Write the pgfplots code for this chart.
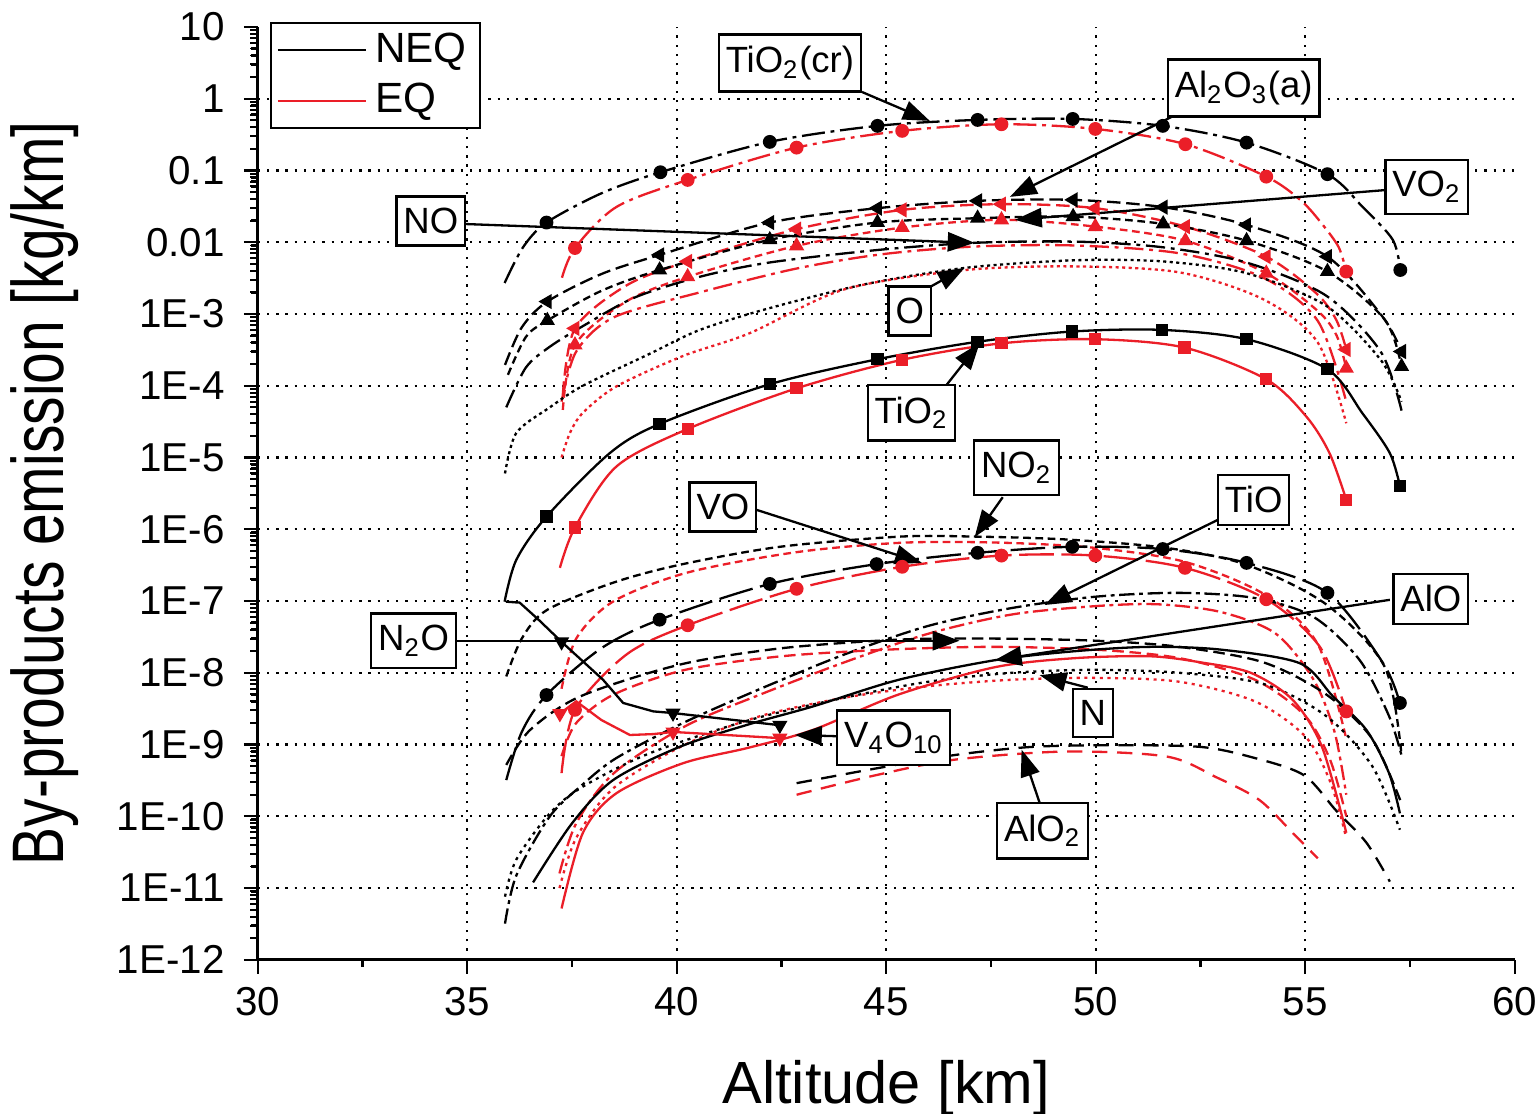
\documentclass[border=0pt]{standalone}
\usepackage{fontspec}
\setmainfont{Liberation Sans}
\newfontfamily\condensed[FakeStretch=0.78]{Liberation Sans}
\usepackage{pgfplots}
\pgfplotsset{compat=1.18}
\usetikzlibrary{arrows.meta}
\definecolor{eqred}{RGB}{235,30,40}
\tikzset{
  neq/.style={black, line width=0.6pt},
  eq/.style={eqred, line width=0.6pt},
  sTiOcr/.style={dash pattern=on 6pt off 1.5pt on 1pt off 1.5pt},
  sAlthree/.style={dash pattern=on 3.5pt off 1.5pt},
  sVOtwo/.style={dash pattern=on 2pt off 1.2pt},
  sNO/.style={dash pattern=on 5pt off 1.5pt on 1pt off 1.5pt},
  sO/.style={dash pattern=on 0.8pt off 0.9pt},
  sNOtwo/.style={dash pattern=on 2pt off 1.2pt},
  sVO/.style={dash pattern=on 9pt off 2pt},
  sTiO/.style={dash pattern=on 4pt off 1.2pt on 1pt off 1.2pt},
  sNtwoO/.style={dash pattern=on 3pt off 1.5pt},
  sN/.style={dash pattern=on 0.8pt off 1.2pt},
  sAlOtwo/.style={dash pattern=on 4pt off 2.5pt},
  lbl/.style={draw=black, fill=white, line width=0.6pt, font=\fontsize{9.5}{11}\selectfont, inner xsep=1.8pt, inner ysep=3pt},
  arr/.style={black, line width=0.6pt, -{Triangle[length=7pt,width=5pt]}},
}
\begin{document}
\begin{tikzpicture}
% overlay axis carrying only the logarithmic minor ticks of the y axis
\begin{axis}[
  at={(0,0)}, anchor=south west,
  scale only axis, width=327.1pt, height=242.8pt,
  xmin=30, xmax=60, ymode=log, ymin=1e-12, ymax=10,
  axis x line=none, axis y line*=left,
  axis line style={-, line width=0.8pt},
  ytick={2e-12,3e-12,4e-12,5e-12,6e-12,7e-12,8e-12,9e-12,
    2e-11,3e-11,4e-11,5e-11,6e-11,7e-11,8e-11,9e-11,
    2e-10,3e-10,4e-10,5e-10,6e-10,7e-10,8e-10,9e-10,
    2e-9,3e-9,4e-9,5e-9,6e-9,7e-9,8e-9,9e-9,
    2e-8,3e-8,4e-8,5e-8,6e-8,7e-8,8e-8,9e-8,
    2e-7,3e-7,4e-7,5e-7,6e-7,7e-7,8e-7,9e-7,
    2e-6,3e-6,4e-6,5e-6,6e-6,7e-6,8e-6,9e-6,
    2e-5,3e-5,4e-5,5e-5,6e-5,7e-5,8e-5,9e-5,
    2e-4,3e-4,4e-4,5e-4,6e-4,7e-4,8e-4,9e-4,
    2e-3,3e-3,4e-3,5e-3,6e-3,7e-3,8e-3,9e-3,
    2e-2,3e-2,4e-2,5e-2,6e-2,7e-2,8e-2,9e-2,
    2e-1,3e-1,4e-1,5e-1,6e-1,7e-1,8e-1,9e-1,
    2,3,4,5,6,7,8,9},
  yticklabel={\relax},
  tick align=outside, major tick length=2pt,
  tick style={black, line width=0.5pt},
]
\end{axis}
\begin{axis}[
  at={(0,0)}, anchor=south west,
  scale only axis, width=327.1pt, height=242.8pt,
  xmin=30, xmax=60, ymode=log, ymin=1e-12, ymax=10,
  axis x line*=bottom, axis y line*=left,
  axis line style={-, line width=0.8pt},
  xtick={30,35,40,45,50,55,60}, xticklabels={30,35,40,45,50,55,60},
  minor x tick num=1,
  ytickten={-12,...,1},
  yticklabels={1E-12,1E-11,1E-10,1E-9,1E-8,1E-7,1E-6,1E-5,1E-4,1E-3,0.01,0.1,1,10},
  tick align=outside, major tick length=3.6pt, minor tick length=1.8pt,
  tick style={black, line width=0.6pt},
  ticklabel style={font=\fontsize{10.5}{12}\selectfont},
  yticklabel style={xshift=-1.5pt},
  extra x ticks={35,40,45,50,55},
  extra x tick style={grid=major, major tick length=0pt, xticklabel={\relax}},
  extra y ticks={1e-11,1e-10,1e-9,1e-8,1e-7,1e-6,1e-5,1e-4,1e-3,1e-2,1e-1,1},
  extra y tick style={grid=major, major tick length=0pt, yticklabel={\relax}},
  major grid style={black, line width=0.6pt, dash pattern=on 0.6pt off 1.8pt},
  xlabel={\fontsize{15.5}{18}\selectfont Altitude [km]},
  xlabel style={at={(axis description cs:0.5,-0.137)}, anchor=center},
  ylabel={\condensed\fontsize{19}{22}\selectfont By-products emission [kg/km]},
  ylabel style={at={(axis description cs:-0.1697,0.5)}, anchor=center},
  legend image code/.code={\draw[#1] (0pt,0pt) -- (23pt,0pt);},
  legend style={at={(rel axis cs:0.0095,1.0054)}, anchor=north west, draw=black, line width=0.6pt,
    font=\fontsize{11}{12.5}\selectfont, inner xsep=1.5pt, inner ysep=0.5pt, cells={anchor=west}},
]
\addlegendimage{black, line width=0.6pt}
\addlegendentry{NEQ}
\addlegendimage{eqred, line width=0.6pt}
\addlegendentry{EQ}

% ---------- TiO2(cr) ----------
\addplot[neq, sTiOcr, smooth, forget plot] coordinates {
(35.89,2.7e-3) (36.33,8.5e-3) (36.89,1.88e-2) (38.2,4.8e-2) (39.61,9.44e-2) (42.22,0.25) (44.79,0.418) (47.18,0.506) (49.45,0.522) (51.6,0.418) (53.6,0.244) (55.53,8.87e-2) (56.37,3.1e-2) (57.09,1.08e-2) (57.27,4.1e-3)};
\addplot[black, only marks, mark=*, mark size=1.6pt, forget plot] coordinates {
(36.89,1.88e-2) (39.61,9.44e-2) (42.22,0.25) (44.79,0.418) (47.18,0.506) (49.45,0.522) (51.6,0.418) (53.6,0.244) (55.53,8.87e-2) (57.27,4.1e-3)};
\addplot[eq, sTiOcr, smooth, forget plot] coordinates {
(37.26,3.2e-3) (37.57,8.3e-3) (38.56,3.1e-2) (40.26,7.38e-2) (42.86,0.208) (45.38,0.356) (47.75,0.44) (49.99,0.379) (52.14,0.232) (54.07,8.2e-2) (54.9,3.8e-2) (55.4,1.8e-2) (55.8,8.5e-3) (55.98,3.9e-3)};
\addplot[eqred, only marks, mark=*, mark size=1.6pt, forget plot] coordinates {
(37.57,8.3e-3) (40.26,7.38e-2) (42.86,0.208) (45.38,0.356) (47.75,0.44) (49.99,0.379) (52.14,0.232) (54.07,8.2e-2) (55.98,3.9e-3)};

% ---------- Al2O3(a) ----------
\addplot[neq, sAlthree, smooth, forget plot] coordinates {
(35.9,1.95e-4) (36.3,6.5e-4) (36.91,1.49e-3) (38.2,3.6e-3) (39.59,6.65e-3) (42.22,1.88e-2) (44.79,2.98e-2) (47.18,3.77e-2) (49.46,3.89e-2) (51.61,3.08e-2) (53.6,1.74e-2) (55.53,6.3e-3) (56.85,9.1e-4) (57.3,3.0e-4)};
\addplot[black, only marks, mark=triangle*, mark size=1.9pt, mark options={rotate=90}, forget plot] coordinates {
(36.91,1.49e-3) (39.59,6.65e-3) (42.22,1.88e-2) (44.79,2.98e-2) (47.18,3.77e-2) (49.46,3.89e-2) (51.61,3.08e-2) (53.6,1.74e-2) (55.53,6.3e-3) (57.3,3.0e-4)};
\addplot[eq, sAlthree, smooth, forget plot] coordinates {
(37.28,7.5e-5) (37.57,6.3e-4) (38.8,2.5e-3) (40.26,5.4e-3) (42.86,1.52e-2) (45.38,2.82e-2) (47.75,3.39e-2) (49.99,2.98e-2) (52.14,1.65e-2) (54.07,6.3e-3) (55.26,1.95e-3) (55.74,8.3e-4) (55.98,3.2e-4)};
\addplot[eqred, only marks, mark=triangle*, mark size=1.9pt, mark options={rotate=90}, forget plot] coordinates {
(37.57,6.3e-4) (40.26,5.4e-3) (42.86,1.52e-2) (45.38,2.82e-2) (47.75,3.39e-2) (49.99,2.98e-2) (52.14,1.65e-2) (54.07,6.3e-3) (55.98,3.2e-4)};

% ---------- VO2 ----------
\addplot[neq, sVOtwo, smooth, forget plot] coordinates {
(35.97,1.42e-4) (36.4,4.8e-4) (36.91,8.1e-4) (38.2,2.1e-3) (39.59,4.1e-3) (42.22,1.08e-2) (44.79,1.88e-2) (47.18,2.16e-2) (49.46,2.27e-2) (51.61,1.8e-2) (53.6,1.05e-2) (55.53,3.9e-3) (56.9,8.3e-4) (57.3,1.85e-4)};
\addplot[black, only marks, mark=triangle*, mark size=1.9pt, forget plot] coordinates {
(36.91,8.1e-4) (39.59,4.1e-3) (42.22,1.08e-2) (44.79,1.88e-2) (47.18,2.16e-2) (49.46,2.27e-2) (51.61,1.8e-2) (53.6,1.05e-2) (55.53,3.9e-3) (57.3,1.85e-4)};
\addplot[eq, sVOtwo, smooth, forget plot] coordinates {
(37.28,4.6e-5) (37.57,3.7e-4) (38.8,1.5e-3) (40.26,3.3e-3) (42.86,8.9e-3) (45.38,1.6e-2) (47.75,2.05e-2) (49.99,1.65e-2) (52.14,1.05e-2) (54.07,3.7e-3) (55.3,1.1e-3) (55.75,5e-4) (55.98,1.75e-4)};
\addplot[eqred, only marks, mark=triangle*, mark size=1.9pt, forget plot] coordinates {
(37.57,3.7e-4) (40.26,3.3e-3) (42.86,8.9e-3) (45.38,1.6e-2) (47.75,2.05e-2) (49.99,1.65e-2) (52.14,1.05e-2) (54.07,3.7e-3) (55.98,1.75e-4)};

% ---------- NO ----------
\addplot[neq, sNO, smooth, forget plot] coordinates {
(35.93,5e-5) (36.4,1.8e-4) (36.97,3.5e-4) (37.8,7e-4) (39,1.7e-3) (40.55,3.3e-3) (42.2,5.2e-3) (44.8,7.8e-3) (47.1,9.8e-3) (49.5,1.02e-2) (51.6,8.5e-3) (53.6,5.2e-3) (55.5,1.8e-3) (56.8,3e-4) (57.3,4.5e-5)};
\addplot[eq, sNO, smooth, forget plot] coordinates {
(37.25,6e-5) (37.6,3e-4) (38.5,9e-4) (40.55,2e-3) (42.86,4.3e-3) (44.9,6.8e-3) (47.1,8.7e-3) (49.5,9e-3) (52,7e-3) (54,3.2e-3) (55.3,8e-4) (55.98,6e-5)};

% ---------- O ----------
\addplot[neq, sO, smooth, forget plot] coordinates {
(35.9,6e-6) (36.17,2.2e-5) (36.97,5e-5) (37.76,1e-4) (39.36,2.8e-4) (40.55,6e-4) (42.2,1.2e-3) (44.5,2.6e-3) (46.9,4.4e-3) (49.5,5.6e-3) (51.6,5.4e-3) (53.6,3.7e-3) (55.5,1.3e-3) (56.8,2.3e-4) (57.3,6e-5)};
\addplot[eq, sO, smooth, forget plot] coordinates {
(37.25,1e-5) (37.45,2.2e-5) (37.76,4.2e-5) (38.56,9.8e-5) (40.15,2.6e-4) (41.74,5.4e-4) (44,2.2e-3) (46.9,4.1e-3) (49.5,4.6e-3) (52,3.8e-3) (54,1.6e-3) (55.3,4e-4) (55.98,3e-5)};

% ---------- TiO2 ----------
\addplot[neq, smooth, forget plot] coordinates {
(35.89,9.8e-8) (36.17,3.75e-7) (36.89,1.5e-6) (38.4,1.15e-5) (39.59,2.94e-5) (42.22,1.05e-4) (44.79,2.34e-4) (47.18,4.1e-4) (49.44,5.7e-4) (51.58,6.0e-4) (53.6,4.45e-4) (55.53,1.7e-4) (56.37,4.1e-5) (57.02,1.15e-5) (57.26,4.0e-6)};
\addplot[black, only marks, mark=square*, mark size=1.4pt, forget plot] coordinates {
(36.89,1.5e-6) (39.59,2.94e-5) (42.22,1.05e-4) (44.79,2.34e-4) (47.18,4.1e-4) (49.44,5.7e-4) (51.58,6.0e-4) (53.6,4.45e-4) (55.53,1.7e-4) (57.26,4.0e-6)};
\addplot[eq, smooth, forget plot] coordinates {
(37.21,2.9e-7) (37.57,1.06e-6) (38.56,7.5e-6) (40.26,2.5e-5) (42.86,9.2e-5) (45.38,2.3e-4) (47.75,3.9e-4) (49.99,4.45e-4) (52.12,3.4e-4) (54.07,1.23e-4) (55.03,3.7e-5) (55.58,1.15e-5) (55.98,2.57e-6)};
\addplot[eqred, only marks, mark=square*, mark size=1.4pt, forget plot] coordinates {
(37.57,1.06e-6) (40.26,2.5e-5) (42.86,9.2e-5) (45.38,2.3e-4) (47.75,3.9e-4) (49.99,4.45e-4) (52.12,3.4e-4) (54.07,1.23e-4) (55.98,2.57e-6)};

% ---------- NO2 ----------
\addplot[neq, sNOtwo, smooth, forget plot] coordinates {
(35.93,8.9e-9) (36.3,3e-8) (36.9,7.5e-8) (38.48,1.8e-7) (40.07,3.2e-7) (42.46,5.7e-7) (45.32,7.9e-7) (47.16,7.9e-7) (49.31,7.2e-7) (51.69,5.5e-7) (53.6,3.2e-7) (55.5,9e-8) (56.9,1.2e-8) (57.3,7e-10)};
\addplot[eq, sNOtwo, smooth, forget plot] coordinates {
(37.25,6e-9) (37.6,3e-8) (38.5,1e-7) (40.26,2.5e-7) (42.86,4.8e-7) (45.38,6.5e-7) (47.75,6.5e-7) (49.99,5.5e-7) (52.14,3.5e-7) (54.07,1.2e-7) (55.3,2.5e-8) (55.98,1.2e-9)};

% ---------- VO ----------
\addplot[neq, sVO, smooth, forget plot] coordinates {
(35.93,3.2e-10) (36.3,1.5e-9) (36.89,4.9e-9) (38.2,2.2e-8) (39.59,5.5e-8) (42.22,1.73e-7) (44.77,3.27e-7) (47.18,4.7e-7) (49.44,5.7e-7) (51.6,5.3e-7) (53.6,3.4e-7) (55.53,1.3e-7) (56.86,1.36e-8) (57.26,3.8e-9)};
\addplot[black, only marks, mark=*, mark size=1.6pt, forget plot] coordinates {
(36.89,4.9e-9) (39.59,5.5e-8) (42.22,1.73e-7) (44.77,3.27e-7) (47.18,4.7e-7) (49.44,5.7e-7) (51.6,5.3e-7) (53.6,3.4e-7) (55.53,1.3e-7) (57.26,3.8e-9)};
\addplot[eq, sVO, smooth, forget plot] coordinates {
(37.25,4e-10) (37.57,3.05e-9) (38.8,1.8e-8) (40.26,4.6e-8) (42.86,1.48e-7) (45.38,3.0e-7) (47.75,4.3e-7) (49.99,4.3e-7) (52.13,2.9e-7) (54.07,1.06e-7) (55.35,2.3e-8) (55.98,2.9e-9)};
\addplot[eqred, only marks, mark=*, mark size=1.6pt, forget plot] coordinates {
(37.57,3.05e-9) (40.26,4.6e-8) (42.86,1.48e-7) (45.38,3.0e-7) (47.75,4.3e-7) (49.99,4.3e-7) (52.13,2.9e-7) (54.07,1.06e-7) (55.98,2.9e-9)};

% ---------- TiO ----------
\addplot[neq, sTiO, smooth, forget plot] coordinates {
(35.9,3.2e-12) (36.17,1.5e-11) (36.97,1e-10) (37.76,2.8e-10) (38.56,6.5e-10) (40.15,2e-9) (42,6e-9) (44,1.8e-8) (46,4.5e-8) (48,8e-8) (50,1.15e-7) (52,1.3e-7) (53.8,1.1e-7) (55.2,6e-8) (56.3,1.5e-8) (57,2.5e-9) (57.3,7e-10)};
\addplot[eq, sTiO, smooth, forget plot] coordinates {
(37.2,1.6e-11) (37.6,8e-11) (38.5,4e-10) (40.2,1.8e-9) (42,5e-9) (44,1.4e-8) (46,3.5e-8) (48,6.5e-8) (50,8.5e-8) (51.5,9e-8) (53,7e-8) (54.3,3.5e-8) (55.2,8e-9) (55.7,1.5e-9) (55.98,2e-10)};

% ---------- N2O ----------
\addplot[neq, sNtwoO, smooth, forget plot] coordinates {
(35.93,5.2e-10) (36.5,1.6e-9) (37.7,4.7e-9) (40.07,1.3e-8) (42.5,2.2e-8) (45.3,2.9e-8) (47.5,3e-8) (50,2.8e-8) (52,2.3e-8) (54,1.4e-8) (55.5,5e-9) (56.6,1.2e-9) (57.3,1.5e-10)};
\addplot[eq, sNtwoO, smooth, forget plot] coordinates {
(37.25,6.9e-10) (37.6,2e-9) (38.5,5e-9) (40.2,1.1e-8) (42.5,1.7e-8) (45,2.1e-8) (47.5,2.3e-8) (50,2.1e-8) (52,1.6e-8) (53.8,8e-9) (55,2.5e-9) (55.6,6e-10) (55.98,1e-10)};

% ---------- N ----------
\addplot[neq, sN, smooth, forget plot] coordinates {
(35.9,7.6e-12) (36.17,2.5e-11) (36.97,1.1e-10) (37.76,2.6e-10) (39.36,7.6e-10) (41.74,2.2e-9) (44,4.5e-9) (46,7.5e-9) (48,1e-8) (50,1.1e-8) (52,1e-8) (54,7e-9) (55.5,2.5e-9) (56.6,5e-10) (57.26,6.5e-11)};
\addplot[eq, sN, smooth, forget plot] coordinates {
(37.2,1e-11) (37.6,5e-11) (38.5,2.5e-10) (40.2,1e-9) (42,2.5e-9) (44,4.5e-9) (46,6.5e-9) (48,8e-9) (50,8.5e-9) (52,7.5e-9) (53.8,4e-9) (55,1.3e-9) (55.6,3e-10) (55.98,5e-11)};

% ---------- AlO ----------
\addplot[neq, smooth, forget plot] coordinates {
(36.57,1.2e-11) (37.5,8e-11) (38.48,3.2e-10) (40.07,9.3e-10) (41.7,1.9e-9) (43.25,3.4e-9) (45.3,8e-9) (47.6,1.5e-8) (49.5,2e-8) (51.3,2.3e-8) (53,2.1e-8) (54.87,1.36e-8) (55.66,4.7e-9) (56.46,1.6e-9) (57,4e-10) (57.26,1.1e-10)};
\addplot[eq, smooth, forget plot] coordinates {
(37.25,5.2e-12) (37.76,5.9e-11) (38.56,2.1e-10) (40.15,5.5e-10) (41.7,9e-10) (43.25,1.6e-9) (45.3,5e-9) (47.6,1.2e-8) (49.5,1.6e-8) (51.3,1.7e-8) (52.5,1.4e-8) (53.7,1e-8) (54.7,4.2e-9) (55.4,9.3e-10) (55.98,5.9e-11)};

% ---------- V4O10 ----------
\addplot[neq, forget plot] coordinates {
(35.92,9.8e-8) (36.25,9.5e-8) (36.7,5.5e-8) (37.25,2.7e-8) (38.24,8e-9) (38.72,3.8e-9) (39.44,2.9e-9) (39.91,2.75e-9) (42.46,1.86e-9)};
\addplot[black, only marks, mark=triangle*, mark size=1.9pt, mark options={rotate=180}, forget plot] coordinates {
(37.25,2.7e-8) (39.91,2.75e-9) (42.46,1.86e-9)};
\addplot[eq, forget plot] coordinates {
(37.21,2.7e-9) (37.6,4e-9) (38.2,2.2e-9) (38.88,1.36e-9) (39.44,1.4e-9) (39.91,1.5e-9) (42.46,1.23e-9)};
\addplot[eqred, only marks, mark=triangle*, mark size=1.9pt, mark options={rotate=180}, forget plot] coordinates {
(37.21,2.7e-9) (39.91,1.5e-9) (42.46,1.23e-9)};

% ---------- AlO2 ----------
\addplot[neq, sAlOtwo, smooth, forget plot] coordinates {
(42.86,2.9e-10) (44.8,4.7e-10) (46.67,7.2e-10) (48.5,9.3e-10) (50.5,9.8e-10) (52.48,9.3e-10) (53.67,6.8e-10) (54.95,3.8e-10) (55.74,1.2e-10) (56.46,4.3e-11) (57.02,1.23e-11)};
\addplot[eq, sAlOtwo, smooth, forget plot] coordinates {
(42.86,2e-10) (44.8,3.8e-10) (46.67,6.2e-10) (49.3,8e-10) (51.7,6.8e-10) (52.88,3.5e-10) (53.9,1.7e-10) (54.7,5.9e-11) (55.3,2.6e-11)};

% ---------- annotations ----------
\draw[arr] (axis cs:44.42,1.24) -- (axis cs:46.04,0.49);
\draw[arr] (axis cs:51.81,0.557) -- (axis cs:47.95,0.0428);
\draw[arr] (axis cs:56.97,0.0536) -- (axis cs:48.07,0.0205);
\draw[arr] (axis cs:34.87,0.018) -- (axis cs:47.11,0.0098);
\draw[arr] (axis cs:45.92,2.17e-3) -- (axis cs:46.87,4.4e-3);
\draw[arr] (axis cs:46.4,9.6e-5) -- (axis cs:47.23,3.95e-4);
\draw[arr] (axis cs:47.78,2.8e-6) -- (axis cs:47.11,7.8e-7);
\draw[arr] (axis cs:41.91,1.86e-6) -- (axis cs:45.85,3.4e-7);
\draw[arr] (axis cs:52.91,1.35e-6) -- (axis cs:48.78,8.8e-8);
\draw[arr] (axis cs:57.02,1.04e-7) -- (axis cs:47.59,1.5e-8);
\draw[arr] (axis cs:34.65,2.8e-8) -- (axis cs:46.75,2.8e-8);
\draw[arr] (axis cs:49.81,6.2e-9) -- (axis cs:48.66,9.3e-9);
\draw[arr] (axis cs:43.96,1.3e-9) -- (axis cs:42.82,1.36e-9);
\draw[arr] (axis cs:48.66,1.55e-10) -- (axis cs:48.23,8.5e-10);

\node[lbl] at (axis cs:42.7,3.15) {TiO\textsubscript{2}(cr)};
\node[lbl] at (axis cs:53.53,1.41) {Al\textsubscript{2}O\textsubscript{3}(a)};
\node[lbl] at (axis cs:57.9,0.059) {VO\textsubscript{2}};
\node[lbl] at (axis cs:34.13,0.0198) {NO};
\node[lbl] at (axis cs:45.56,1.1e-3) {O};
\node[lbl] at (axis cs:45.6,4.2e-5) {TiO\textsubscript{2}};
\node[lbl] at (axis cs:48.11,7.2e-6) {NO\textsubscript{2}};
\node[lbl] at (axis cs:41.1,2.05e-6) {VO};
\node[lbl] at (axis cs:53.77,2.57e-6) {TiO};
\node[lbl] at (axis cs:58.0,1.07e-7) {AlO};
\node[lbl] at (axis cs:33.72,2.8e-8) {N\textsubscript{2}O};
\node[lbl] at (axis cs:49.93,2.77e-9) {N};
\node[lbl] at (axis cs:45.18,1.24e-9) {V\textsubscript{4}O\textsubscript{10}};
\node[lbl] at (axis cs:48.73,6.3e-11) {AlO\textsubscript{2}};
\end{axis}
\pgfresetboundingbox
\path[use as bounding box] (-67.1pt,-40.1pt) rectangle (332.9pt,249.8pt);
\end{tikzpicture}
\end{document}
